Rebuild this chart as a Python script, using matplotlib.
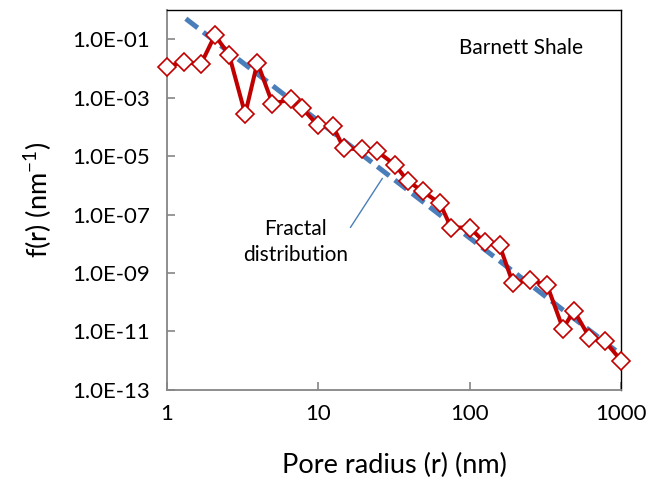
import matplotlib
matplotlib.use("Agg")
import matplotlib.pyplot as plt

plt.rcParams['font.family'] = ['Lato', 'DejaVu Sans']

# pore size distribution
radius = [1.0, 1.29, 1.67, 2.07, 2.57, 3.28, 3.95, 4.97, 6.58, 7.76, 9.86,
          12.4, 14.7, 19.5, 24.5, 32.2, 38.9, 49.0, 63.5, 75.2, 100.0,
          125.0, 157.0, 192.0, 248.0, 323.0, 412.0, 488.0, 617.0, 776.0, 1000.0]
f_r = [1.15e-2, 1.7e-2, 1.38e-2, 1.38e-1, 2.9e-2, 2.75e-4, 1.6e-2, 6.3e-4, 8.7e-4, 4.6e-4, 1.15e-4,
       1.1e-4, 1.9e-5, 1.7e-5, 1.45e-5, 4.9e-6, 1.4e-6, 6.2e-7, 2.4e-7, 3.6e-8, 3.6e-8,
       1.12e-8, 8.9e-9, 4.7e-10, 5.6e-10, 4.0e-10, 1.26e-11, 5.1e-11, 6.2e-12, 4.8e-12, 1.0e-12]

# fractal fit line end points
fit_r = [1.33, 1000.0]
fit_f = [0.506, 1.58e-12]

yticks = [1e-13, 1e-11, 1e-9, 1e-7, 1e-5, 1e-3, 1e-1]
ylabels = ["1.0E-13", "1.0E-11", "1.0E-09", "1.0E-07", "1.0E-05", "1.0E-03", "1.0E-01"]
xticks = [1, 10, 100, 1000]
xlabels = ["1", "10", "100", "1000"]

fig = plt.figure(figsize=(6.63, 4.79), dpi=100)
ax = fig.add_axes([0.252, 0.186, 0.685, 0.793])

ax.plot(fit_r, fit_f, color="#4A7EBB", lw=3.6, dashes=(3, 1.4),
        dash_capstyle="butt", zorder=3)
ax.plot(radius, f_r, color="#C00000", lw=2.9, marker="D", ms=8.8,
        mfc="white", mec="#C00000", mew=1.2, zorder=4, clip_on=False)

ax.set_xscale("log")
ax.set_yscale("log")
ax.set_xlim(1, 1000)
ax.set_ylim(1e-13, 1)
ax.minorticks_off()
ax.set_xticks(xticks)
ax.set_xticklabels(xlabels)
ax.set_yticks(yticks)
ax.set_yticklabels(ylabels)

ax.tick_params(axis="both", direction="in", length=6, width=1.2,
               color="#868686", labelsize=16, labelcolor="black")
ax.tick_params(axis="y", pad=12)
ax.tick_params(axis="x", pad=10)

for s in ["left", "bottom"]:
    ax.spines[s].set_color("#868686")
    ax.spines[s].set_linewidth(1.3)
for s in ["top", "right"]:
    ax.spines[s].set_color("black")
    ax.spines[s].set_linewidth(1.0)

ax.set_xlabel("Pore radius (r) (nm)", fontsize=19.5, labelpad=21)
ax.set_ylabel("f(r) (nm$^{\\mathregular{-1}}$)", fontsize=19.5, labelpad=13)

ax.text(0.78, 0.9, "Barnett Shale", transform=ax.transAxes, fontsize=15,
        ha="center", va="center")
ax.annotate("Fractal\ndistribution", xy=(0.474, 0.557), xycoords="axes fraction",
            xytext=(0.282, 0.39), textcoords="axes fraction",
            fontsize=15, ha="center", va="center", linespacing=1.35,
            arrowprops=dict(arrowstyle="-", color="#4A7EBB", lw=1.0,
                            shrinkA=0, shrinkB=0, relpos=(1.0, 0.72)))

fig.savefig("out.png", dpi=100)
